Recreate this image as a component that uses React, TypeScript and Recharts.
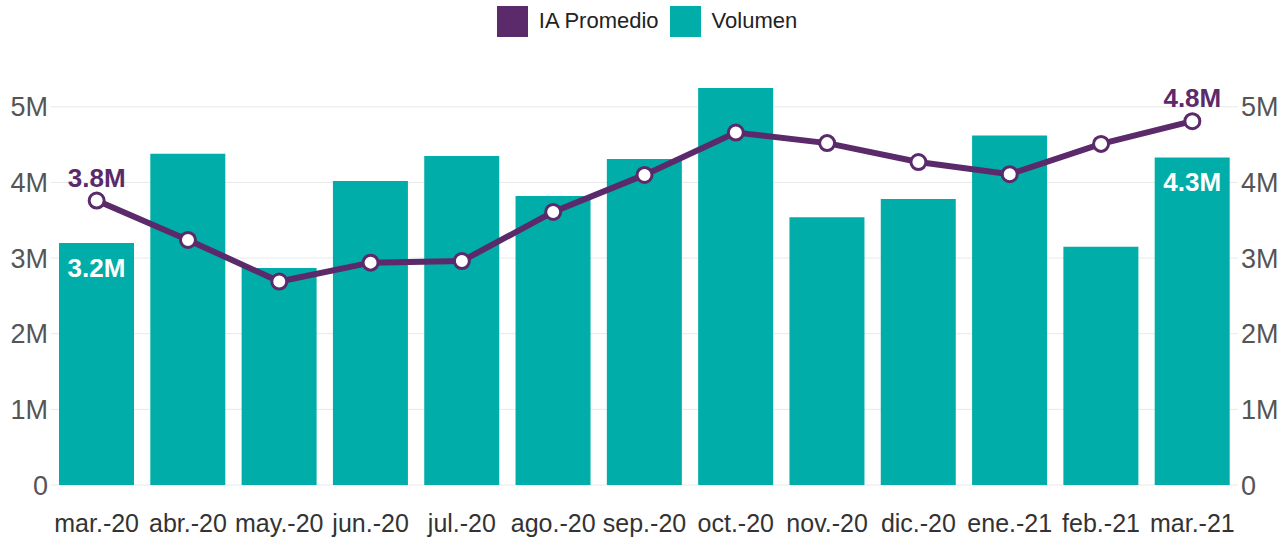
import {
  Bar,
  CartesianGrid,
  ComposedChart,
  LabelList,
  Legend,
  Line,
  XAxis,
  YAxis,
} from "recharts";

const months = [
  "mar.-20", "abr.-20", "may.-20", "jun.-20", "jul.-20", "ago.-20", "sep.-20",
  "oct.-20", "nov.-20", "dic.-20", "ene.-21", "feb.-21", "mar.-21",
];
const volumen = [3.2, 4.38, 2.87, 4.02, 4.35, 3.82, 4.31, 5.25, 3.54, 3.78, 4.62, 3.15, 4.33];
const iaPromedio = [3.76, 3.24, 2.69, 2.94, 2.96, 3.61, 4.1, 4.66, 4.52, 4.27, 4.11, 4.51, 4.81];
const yTicks = [0, 1, 2, 3, 4, 5];

const TEAL = "#00ADA8";
const PURPLE = "#5B2A6A";
const FONT = "'Liberation Sans', Arial, sans-serif";

const data = months.map((m, i) => ({
  month: m,
  volumen: volumen[i] * 1e6,
  ia: iaPromedio[i] * 1e6,
}));

const fmtTick = (v: number) => (v === 0 ? "0" : `${v / 1e6}M`);
const fmtLabel = (v: number) => `${(v / 1e6).toFixed(1)}M`;
const last = months.length - 1;

function EndLabel(props: any) {
  const { x, y, width, value, index, fill, dy, bar } = props;
  if (index !== 0 && index !== last) return null;
  const cx = bar ? x + width / 2 : x;
  return (
    <text
      x={cx}
      y={y + dy}
      textAnchor="middle"
      dominantBaseline="central"
      fill={fill}
      fontFamily={FONT}
      fontSize={26}
      fontWeight="bold"
    >
      {fmtLabel(value)}
    </text>
  );
}

function TopLegend() {
  const item = (color: string, label: string, gap: number) => (
    <span style={{ display: "inline-flex", alignItems: "center", marginRight: gap }}>
      <span style={{ width: 31, height: 31, background: color, display: "inline-block", marginRight: 11 }} />
      <span style={{ fontSize: 22, color: "#222" }}>{label}</span>
    </span>
  );
  return (
    <div
      style={{
        height: 40,
        display: "flex",
        justifyContent: "center",
        alignItems: "center",
        fontFamily: FONT,
        paddingLeft: 14,
      }}
    >
      {item(PURPLE, "IA Promedio", 11)}
      {item(TEAL, "Volumen", 0)}
    </div>
  );
}

export default function App() {
  return (
    <div style={{ position: "absolute", left: 0, top: 0, background: "#fff" }}>
      <ComposedChart
        width={1280}
        height={540}
        data={data}
        margin={{ top: 29, right: 0, bottom: 0, left: 0 }}
      >
        <Legend verticalAlign="top" content={<TopLegend />} wrapperStyle={{ top: 1 }} />
        <CartesianGrid vertical={false} stroke="#e8e8e8" yAxisId="left" syncWithTicks />
        <XAxis
          dataKey="month"
          height={55}
          axisLine={false}
          tickLine={false}
          tickSize={6}
          tickMargin={23}
          interval={0}
          tick={{ fontSize: 25, fill: "#333", fontFamily: FONT }}
        />
        <YAxis
          yAxisId="left"
          width={51}
          domain={[0, 5.5e6]}
          ticks={yTicks.map((t) => t * 1e6)}
          tickFormatter={fmtTick}
          axisLine={false}
          tickLine={false}
          tickSize={0}
          tickMargin={3}
          tick={{ fontSize: 27, fill: "#555", fontFamily: FONT }}
        />
        <YAxis
          yAxisId="right"
          orientation="right"
          width={42}
          domain={[0, 5.5e6]}
          ticks={yTicks.map((t) => t * 1e6)}
          tickFormatter={fmtTick}
          axisLine={false}
          tickLine={false}
          tickSize={0}
          tickMargin={3}
          tick={{ fontSize: 27, fill: "#555", fontFamily: FONT }}
        />
        <Bar yAxisId="left" dataKey="volumen" name="Volumen" fill={TEAL} barSize={75} isAnimationActive={false}>
          <LabelList dataKey="volumen" content={(p: any) => <EndLabel {...p} bar fill="#fff" dy={25} />} />
        </Bar>
        <Line
          yAxisId="right"
          dataKey="ia"
          name="IA Promedio"
          stroke={PURPLE}
          strokeWidth={6}
          dot={{ r: 7.5, fill: "#fff", stroke: PURPLE, strokeWidth: 3 }}
          isAnimationActive={false}
        >
          <LabelList dataKey="ia" content={(p: any) => <EndLabel {...p} fill={PURPLE} dy={-23} />} />
        </Line>
      </ComposedChart>
    </div>
  );
}
